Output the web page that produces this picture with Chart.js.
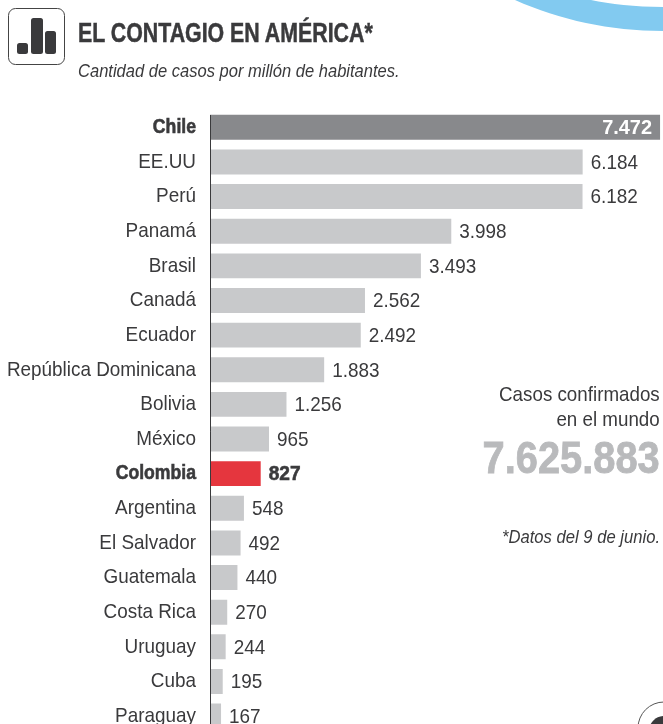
<!DOCTYPE html>
<html><head><meta charset="utf-8">
<script src="https://cdn.jsdelivr.net/npm/chart.js@4"></script>
<style>
html,body{margin:0;padding:0;width:663px;height:724px;overflow:hidden;background:#fff;}
body{position:relative;font-family:"Liberation Sans",sans-serif;color:#3a3a3c;}
#wrap{position:absolute;left:0;top:0;width:663px;height:749px;}
.t{position:absolute;white-space:nowrap;}
.l{transform-origin:left center;}
.r{transform-origin:right center;}
</style></head><body>
<div id="wrap"><canvas id="c" width="663" height="749"></canvas></div>
<svg class="t" style="left:0;top:0" width="663" height="724">
<path d="M515 0 C 560 20 610 31 663 31 L663 7 C 635 7 610 4 591 0 Z" fill="#82caf0"/>
<rect x="8.5" y="8.5" width="56" height="56" rx="7" fill="none" stroke="#444" stroke-width="1"/>
<rect x="17" y="43" width="11" height="11" rx="2.5" fill="#3a3a3c"/>
<rect x="31" y="18" width="12" height="36" rx="2.5" fill="#3a3a3c"/>
<rect x="45" y="31" width="11" height="23" rx="2.5" fill="#3a3a3c"/>
<circle cx="664" cy="728" r="26" fill="none" stroke="#555" stroke-width="1"/>
<circle cx="664" cy="731" r="15" fill="#3a3a3c"/>
</svg>
<div class="t l" style="left:78px;top:18px;font-size:27px;font-weight:700;transform:scaleX(.79);-webkit-text-stroke:.5px #3a3a3c">EL CONTAGIO EN AMÉRICA*</div>
<div class="t l" style="left:78px;top:60px;font-size:19px;font-style:italic;transform:scaleX(.87)">Cantidad de casos por millón de habitantes.</div>
<div class="t r" style="right:3px;top:381px;font-size:21px;line-height:25px;text-align:right;transform:scaleX(.894)">Casos confirmados<br>en el mundo</div>
<div class="t r" style="right:3px;top:433px;font-size:44px;font-weight:700;color:#b9babc;transform:scaleX(.905);-webkit-text-stroke:.8px #b9babc">7.625.883</div>
<div class="t r" style="right:3px;top:527px;font-size:18px;font-style:italic;transform:scaleX(.924)">*Datos del 9 de junio.</div>
<script>
const categories = ["Chile","EE.UU","Perú","Panamá","Brasil","Canadá","Ecuador","República Dominicana","Bolivia","México","Colombia","Argentina","El Salvador","Guatemala","Costa Rica","Uruguay","Cuba","Paraguay"];
const values = [7472,6184,6182,3998,3493,2562,2492,1883,1256,965,827,548,492,440,270,244,195,167];
const valueLabels = ["7.472","6.184","6.182","3.998","3.493","2.562","2.492","1.883","1.256","965","827","548","492","440","270","244","195","167"];
const barColors = ["#88898c","#c8c9cb","#c8c9cb","#c8c9cb","#c8c9cb","#c8c9cb","#c8c9cb","#c8c9cb","#c8c9cb","#c8c9cb","#e5363e","#c8c9cb","#c8c9cb","#c8c9cb","#c8c9cb","#c8c9cb","#c8c9cb","#c8c9cb"];
const boldRows = ["Chile","Colombia"];
const FONT = '"Liberation Sans",sans-serif';
function squeezed(ctx,text,x,y,sx,bold){
  ctx.save(); ctx.translate(x,y); ctx.scale(sx,1);
  if(bold){ctx.lineWidth=0.6;ctx.strokeStyle=ctx.fillStyle;ctx.strokeText(text,0,0);}
  ctx.fillText(text,0,0); ctx.restore();
}
const annot = {
  id:'annot',
  afterDatasetsDraw(ch){
    const ctx=ch.ctx, m=ch.getDatasetMeta(0), ys=ch.scales.y;
    ctx.save();
    const ax=ch.chartArea.left-0.5;
    ctx.strokeStyle='#3a3a3c'; ctx.lineWidth=1;
    ctx.beginPath(); ctx.moveTo(ax,m.data[0].y-m.data[0].height/2); ctx.lineTo(ax,ch.height); ctx.stroke();
    ctx.textBaseline='middle';
    m.data.forEach((b,i)=>{
      const bold=boldRows.includes(categories[i]);
      ctx.fillStyle='#3a3a3c'; ctx.textAlign='right';
      ctx.font=(bold?'700 ':'')+'21px '+FONT;
      squeezed(ctx,categories[i],196,ys.getPixelForTick(i),bold?0.84:0.9,bold);
      if(i===0){
        ctx.font='700 21px '+FONT; ctx.fillStyle='#fff'; ctx.textAlign='right';
        squeezed(ctx,valueLabels[i],b.x-8,b.y+1,0.95,false);
      }else{
        ctx.textAlign='left';
        squeezed(ctx,valueLabels[i],b.x+8,b.y+1,bold?0.91:0.9,bold);
      }
    });
    ctx.restore();
  }
};
new Chart(document.getElementById('c'),{
  type:'bar',
  data:{labels:categories,datasets:[{data:values,backgroundColor:barColors,borderWidth:0,categoryPercentage:1,barPercentage:0.72}]},
  plugins:[annot],
  options:{
    indexAxis:'y',responsive:false,animation:false,
    layout:{padding:{left:0,right:0,top:110,bottom:8}},
    plugins:{legend:{display:false},tooltip:{enabled:false}},
    scales:{
      x:{display:false,min:0,max:7521},
      y:{
        afterFit(s){s.width=211;},
        grid:{display:false},border:{display:false},
        ticks:{autoSkip:false,color:'rgba(0,0,0,0)',font:{family:FONT,size:21}}
      }
    }
  }
});
</script>
</body></html>
